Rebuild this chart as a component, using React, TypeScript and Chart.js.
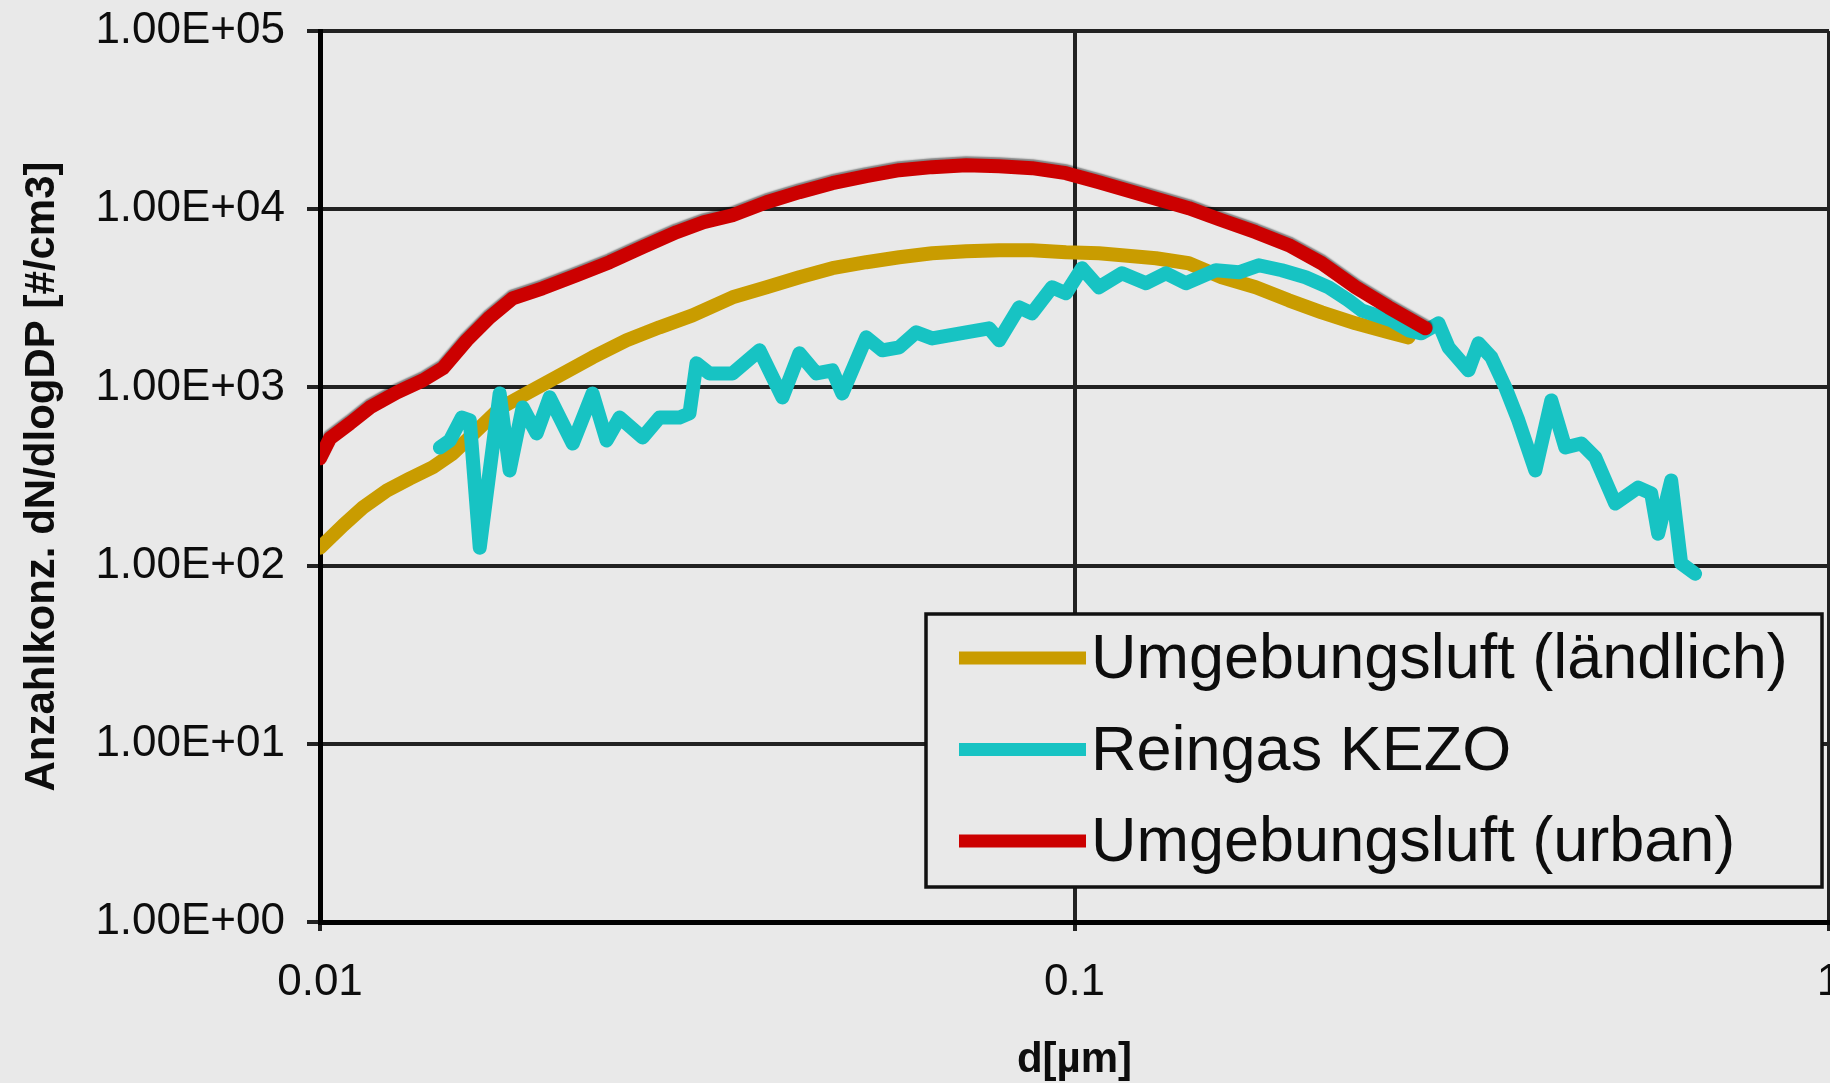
import React, { useEffect, useRef } from 'react';
import { Chart, registerables } from 'chart.js';

Chart.register(...registerables);

// ---- Data ----
const seriesLabels = ['Umgebungsluft (ländlich)', 'Reingas KEZO', 'Umgebungsluft (urban)'];
const seriesColors = ['#c99c00', '#17c3c3', '#cc0000'];

const ruralD = [0.01, 0.010726, 0.011399, 0.012266, 0.013155, 0.014109, 0.014997, 0.016137, 0.017303, 0.018793,
  0.020782, 0.022977, 0.025488, 0.028184, 0.031167, 0.035216, 0.039069, 0.043193, 0.047753, 0.052972,
  0.058575, 0.064765, 0.071843, 0.07945, 0.08785, 0.09744, 0.10775, 0.11558, 0.12822, 0.14173,
  0.15674, 0.17386, 0.19231, 0.21265, 0.23582, 0.26075, 0.27715];
const ruralV = [126, 168, 212, 264, 308, 356, 426, 573, 762, 925,
  1168, 1475, 1837, 2173, 2537, 3204, 3645, 4150, 4665, 5040,
  5375, 5660, 5810, 5885, 5885, 5730, 5660, 5515, 5305, 4973,
  4150, 3645, 3080, 2637, 2288, 2037, 1909];

const kezoD = [0.014417, 0.014864, 0.015417, 0.015795, 0.016283, 0.017303, 0.017838, 0.01856, 0.01937, 0.020153,
  0.021625, 0.022977, 0.023983, 0.024952, 0.026765, 0.028184, 0.029957, 0.030883, 0.03155, 0.032825,
  0.035216, 0.038242, 0.041012, 0.043193, 0.045489, 0.047753, 0.049234, 0.052972, 0.05562, 0.058575,
  0.061685, 0.064765, 0.071843, 0.077045, 0.07945, 0.084441, 0.08785, 0.093373, 0.09744, 0.10231,
  0.10775, 0.11558, 0.12436, 0.13217, 0.14049, 0.15395, 0.16511, 0.17547, 0.18826, 0.20245,
  0.21722, 0.23081, 0.24013, 0.26316, 0.27715, 0.2884, 0.30373, 0.31312, 0.33279, 0.34307,
  0.35693, 0.37246, 0.38751, 0.40813, 0.42855, 0.44723, 0.4696, 0.49009, 0.52081, 0.55865,
  0.58122, 0.59376, 0.61778, 0.63683, 0.66464];
const kezoV = [460, 504, 678, 653, 126, 925, 342, 772, 552, 879,
  484, 925, 504, 678, 524, 678, 678, 715, 1364, 1198,
  1198, 1614, 879, 1552, 1198, 1247, 925, 1909, 1614, 1679,
  2037, 1884, 2037, 2145, 1837, 2813, 2604, 3645, 3373, 4665,
  3645, 4366, 3840, 4366, 3840, 4543, 4426, 4845, 4543, 4150,
  3645, 3080, 2708, 2378, 2091, 2011, 2288, 1679, 1247, 1766,
  1475, 1000, 653, 342, 845, 460, 484, 404, 223, 274,
  254, 151, 300, 103, 90];

const urbanD = [0.01, 0.01031, 0.010957, 0.011646, 0.012647, 0.013688, 0.014546, 0.015648, 0.016788, 0.018002,
  0.019728, 0.021886, 0.024205, 0.026765, 0.029684, 0.032236, 0.035216, 0.039069, 0.043193, 0.047753,
  0.052972, 0.058575, 0.064765, 0.071843, 0.07945, 0.08785, 0.09744, 0.10775, 0.12359, 0.14173,
  0.15674, 0.17386, 0.19231, 0.21265, 0.23582, 0.26075, 0.2919];
const urbanV = [400, 517, 628, 772, 937, 1095, 1279, 1837, 2473, 3162,
  3597, 4259, 5040, 6118, 7427, 8453, 9256, 10943, 12460, 13996,
  15322, 16560, 17219, 17670, 17443, 16994, 15927, 14183, 11990, 10130,
  8674, 7427, 6278, 4974, 3646, 2814, 2146];

const xTickValues = [0.01, 0.1, 1];
const xTickLabels = ['0.01', '0.1', '1'];
const yTickValues = [1, 10, 100, 1000, 10000, 100000];
const yTickLabels = ['1.00E+00', '1.00E+01', '1.00E+02', '1.00E+03', '1.00E+04', '1.00E+05'];
const xTitle = 'd[µm]';
const yTitle = 'Anzahlkonz. dN/dlogDP [#/cm3]';

// ---- Style ----
const BG = '#e9e9e9';
const FONT = '"Liberation Sans", Arial, sans-serif';
const TEXT = '#0d0d0d';
const GRID = '#222222';

const toPoints = (d: number[], v: number[]) => d.map((x, i) => ({ x, y: v[i] }));

const bgPlugin = {
  id: 'bgFill',
  beforeDraw(chart: any) {
    const ctx = chart.ctx;
    ctx.save();
    ctx.fillStyle = BG;
    ctx.fillRect(0, 0, chart.width, chart.height);
    ctx.restore();
  },
};

// dark edge on the upper side of the urban curve, as in the reference
const edgePlugin = {
  id: 'lineEdge',
  beforeDatasetDraw(chart: any, args: any) {
    if (args.index !== 2) return;
    const ctx = chart.ctx;
    ctx.save();
    ctx.shadowColor = 'rgba(0,0,0,0.45)';
    ctx.shadowOffsetX = 0;
    ctx.shadowOffsetY = -2;
    ctx.shadowBlur = 1.5;
  },
  afterDatasetDraw(chart: any, args: any) {
    if (args.index !== 2) return;
    chart.ctx.restore();
  },
};

const boxLegendPlugin = {
  id: 'boxLegend',
  afterDraw(chart: any) {
    const { ctx, chartArea } = chart;
    const w = 896;
    const h = 273;
    const right = chartArea.right - 7;
    const bottom = chartArea.bottom - 35;
    const left = right - w;
    const top = bottom - h;
    ctx.save();
    ctx.fillStyle = BG;
    ctx.fillRect(left, top, w, h);
    ctx.lineWidth = 3.5;
    ctx.strokeStyle = '#111';
    ctx.strokeRect(left, top, w, h);
    chart.data.datasets.forEach((ds: any, i: number) => {
      const y = top + 44 + i * 91.5;
      ctx.strokeStyle = ds.borderColor;
      ctx.lineWidth = 13;
      ctx.lineCap = 'butt';
      ctx.beginPath();
      ctx.moveTo(left + 33, y);
      ctx.lineTo(left + 160, y);
      ctx.stroke();
      ctx.fillStyle = TEXT;
      ctx.font = `63px ${FONT}`;
      ctx.textBaseline = 'middle';
      ctx.textAlign = 'left';
      ctx.fillText(ds.label, left + 165, y + 3);
    });
    ctx.restore();
  },
};

export default function App() {
  const canvasRef = useRef<HTMLCanvasElement | null>(null);

  useEffect(() => {
    const canvas = canvasRef.current;
    if (!canvas) return;
    const lineCommon = {
      borderWidth: 14,
      pointRadius: 0,
      tension: 0,
      fill: false,
      borderJoinStyle: 'round' as const,
      borderCapStyle: 'round' as const,
    };
    const chart = new Chart(canvas, {
      type: 'line',
      data: {
        datasets: [
          { ...lineCommon, label: seriesLabels[0], data: toPoints(ruralD, ruralV), borderColor: seriesColors[0], backgroundColor: seriesColors[0], order: 3 },
          { ...lineCommon, label: seriesLabels[1], data: toPoints(kezoD, kezoV), borderColor: seriesColors[1], backgroundColor: seriesColors[1], order: 2 },
          { ...lineCommon, label: seriesLabels[2], data: toPoints(urbanD, urbanV), borderColor: seriesColors[2], backgroundColor: seriesColors[2], order: 1 },
        ],
      },
      options: {
        animation: false,
        responsive: false,
        maintainAspectRatio: false,
        devicePixelRatio: 1,
        parsing: false,
        layout: { padding: { left: 0, top: 31, right: 0, bottom: 0 } },
        plugins: {
          legend: { display: false },
          tooltip: { enabled: false },
        },
        scales: {
          x: {
            type: 'logarithmic',
            min: 0.01,
            max: 1,
            afterBuildTicks: (s: any) => {
              s.ticks = xTickValues.map((v) => ({ value: v }));
            },
            afterFit: (s: any) => {
              s.height = 161;
              s.paddingLeft = 0;
              s.paddingRight = 12;
            },
            ticks: {
              autoSkip: false,
              maxRotation: 0,
              padding: 25,
              color: TEXT,
              font: { family: FONT, size: 44 },
              callback: (_v: any, i: number) => xTickLabels[i],
            },
            grid: { color: GRID, lineWidth: 4, tickLength: 9 },
            border: { color: '#000', width: 5 },
            title: {
              display: true,
              text: xTitle,
              color: TEXT,
              font: { family: FONT, size: 42, weight: 'bold', lineHeight: 1 },
              padding: { top: 0, bottom: 2 },
            },
          },
          y: {
            type: 'logarithmic',
            min: 1,
            max: 100000,
            afterBuildTicks: (s: any) => {
              s.ticks = yTickValues.map((v) => ({ value: v }));
            },
            afterFit: (s: any) => {
              s.width = 320;
              s.paddingTop = 0;
              s.paddingBottom = 0;
            },
            ticks: {
              padding: 22,
              color: TEXT,
              font: { family: FONT, size: 44 },
              callback: (_v: any, i: number) => yTickLabels[i],
            },
            grid: { color: GRID, lineWidth: 4, tickLength: 13 },
            border: { color: '#000', width: 5 },
            title: {
              display: true,
              text: yTitle,
              color: TEXT,
              font: { family: FONT, size: 42, weight: 'bold', lineHeight: 1 },
              padding: { top: 21, bottom: 0 },
            },
          },
        },
      } as any,
      plugins: [bgPlugin, edgePlugin, boxLegendPlugin],
    });
    return () => chart.destroy();
  }, []);

  return (
    <div style={{ position: 'fixed', left: 0, top: 0, width: 1830, height: 1083, overflow: 'hidden', background: BG }}>
      <canvas ref={canvasRef} width={1841} height={1083} style={{ width: 1841, height: 1083, display: 'block' }} />
    </div>
  );
}
